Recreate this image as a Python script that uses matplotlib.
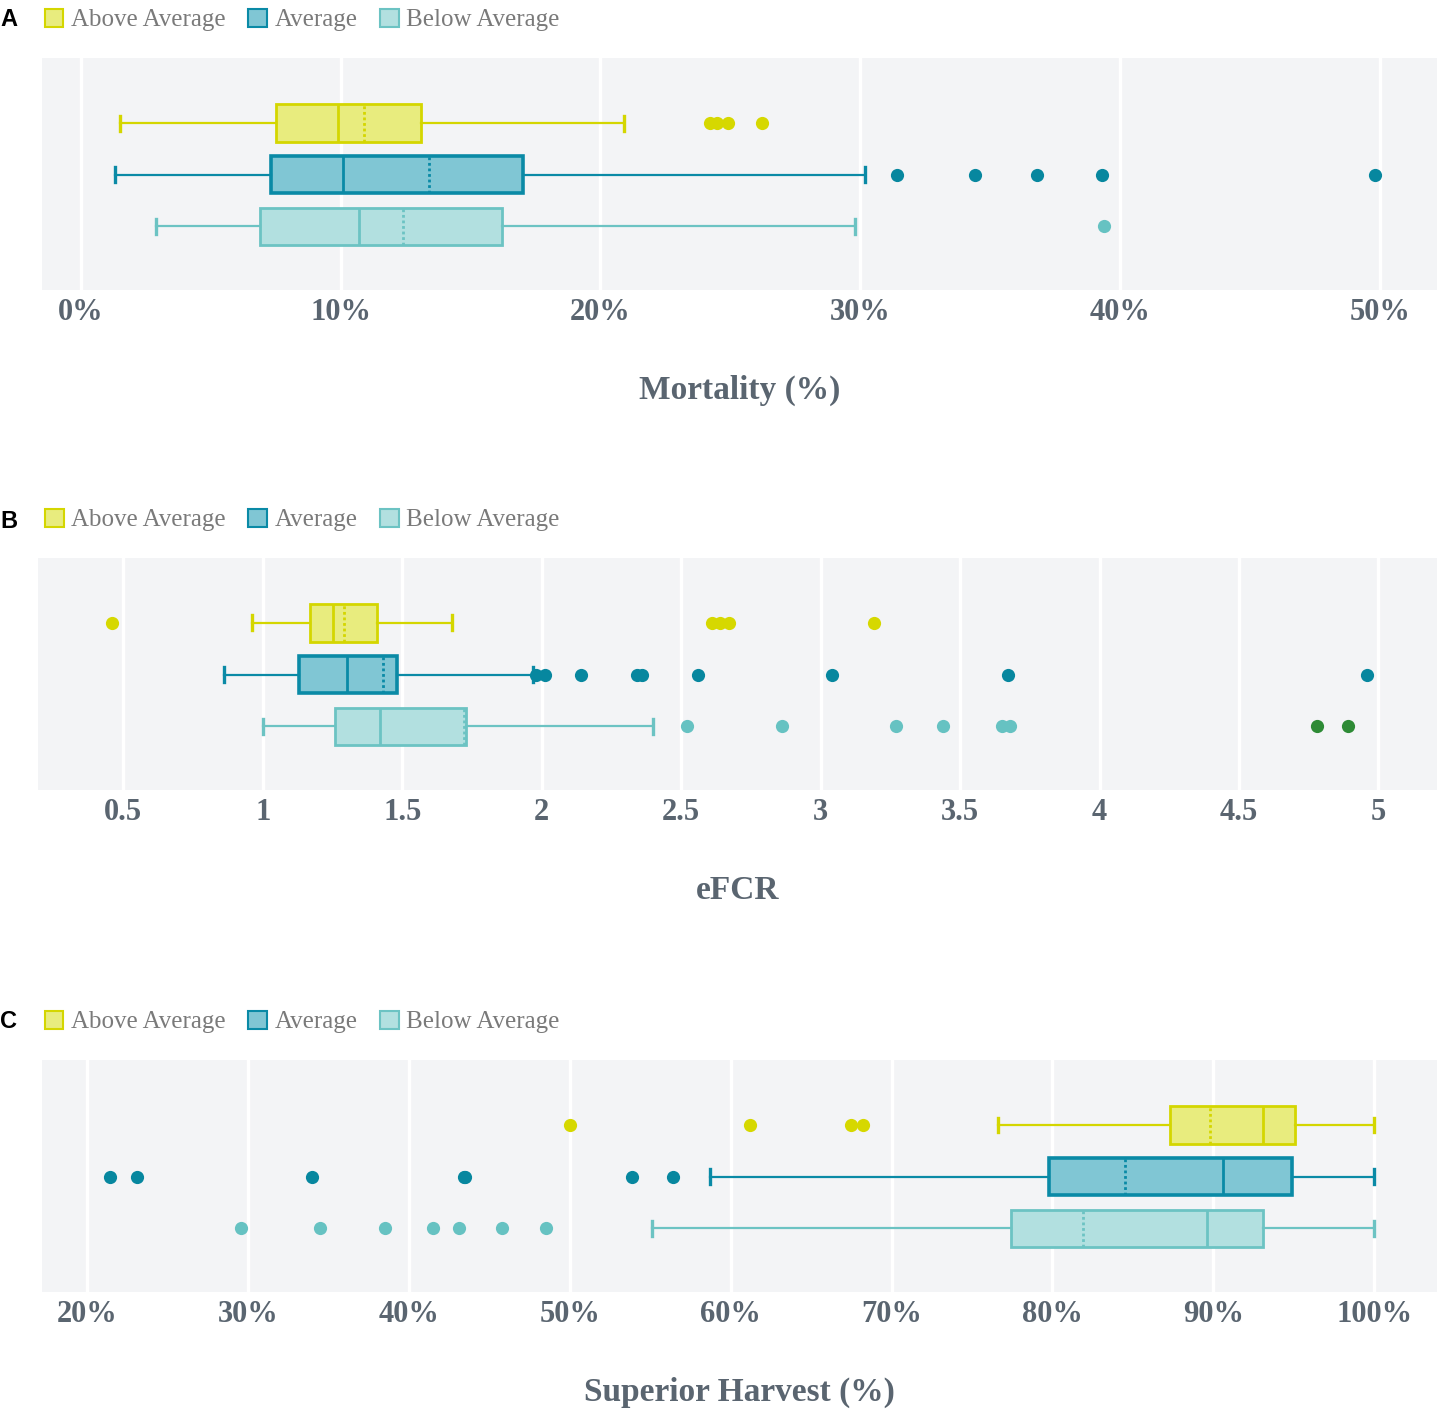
import matplotlib
matplotlib.use('Agg')
import matplotlib.pyplot as plt
from matplotlib.patches import Patch

# groups (top to bottom)
groups = ['Above Average', 'Average', 'Below Average']

# A: mortality (%)
mort_whislo = [1.5, 1.3, 2.9]
mort_q1 = [7.5, 7.3, 6.9]
mort_med = [9.9, 10.1, 10.7]
mort_mean = [10.9, 13.4, 12.4]
mort_q3 = [13.1, 17.0, 16.2]
mort_whishi = [20.9, 30.2, 29.8]
mort_fliers = [[24.2, 24.5, 24.9, 26.2],
               [31.4, 34.4, 36.8, 39.3, 49.8],
               [39.4]]
mort_ticks = [0, 10, 20, 30, 40, 50]
mort_ticklabels = ['0%', '10%', '20%', '30%', '40%', '50%']

# B: eFCR
efcr_whislo = [0.96, 0.86, 1.0]
efcr_q1 = [1.17, 1.13, 1.26]
efcr_med = [1.25, 1.30, 1.42]
efcr_mean = [1.29, 1.43, 1.72]
efcr_q3 = [1.41, 1.48, 1.73]
efcr_whishi = [1.68, 1.97, 2.40]
efcr_fliers = [[0.46, 2.61, 2.64, 2.67, 3.19],
               [1.98, 2.01, 2.14, 2.34, 2.36, 2.56, 3.04, 3.67, 4.96],
               [2.52, 2.86, 3.27, 3.44, 3.65, 3.68]]
efcr_extreme = [[], [], [4.78, 4.89]]
efcr_ticks = [0.5, 1, 1.5, 2, 2.5, 3, 3.5, 4, 4.5, 5]
efcr_ticklabels = ['0.5', '1', '1.5', '2', '2.5', '3', '3.5', '4', '4.5', '5']

# C: superior harvest (%)
harv_whislo = [76.6, 58.7, 55.1]
harv_q1 = [87.3, 79.8, 77.4]
harv_med = [93.1, 90.6, 89.6]
harv_mean = [89.8, 84.5, 81.9]
harv_q3 = [95.1, 94.9, 93.1]
harv_whishi = [100, 100, 100]
harv_fliers = [[50.0, 61.2, 67.5, 68.2],
               [21.4, 23.1, 34.0, 43.4, 43.5, 53.9, 56.4],
               [29.6, 34.5, 38.5, 41.5, 43.1, 45.8, 48.5]]
harv_ticks = [20, 30, 40, 50, 60, 70, 80, 90, 100]
harv_ticklabels = ['20%', '30%', '40%', '50%', '60%', '70%', '80%', '90%', '100%']

edge_colors = ['#d4d600', '#0a8aa6', '#6cc3c3']
fill_colors = ['#e8ec7e', '#80c6d4', '#b2e0e0']
flier_colors = ['#d6d800', '#07879f', '#66c2c2']
extreme_color = '#2e8b36'
box_lw = [2.0, 2.6, 2.0]
bg = '#f3f4f6'
text_col = '#5a6570'
serif = 'Liberation Serif'


def draw_panel(ax, whislo, q1, med, mean, q3, whishi, fliers, xlim,
               ticks, ticklabels, xlabel, extreme=None, leg_x=0.002):
    ax.set_facecolor(bg)
    for i in range(3):
        y = 3 - i
        st = [dict(whislo=whislo[i], q1=q1[i], med=med[i], mean=mean[i],
                   q3=q3[i], whishi=whishi[i], fliers=[])]
        c = edge_colors[i]
        ax.bxp(st, positions=[y], vert=False, widths=0.72, capwidths=0.29,
               patch_artist=True, showmeans=True, meanline=True,
               showfliers=False,
               boxprops=dict(facecolor=fill_colors[i], edgecolor=c, linewidth=box_lw[i]),
               medianprops=dict(color=c, linewidth=2.0),
               meanprops=dict(color=c, linewidth=2.0, linestyle=(0, (1, 1))),
               whiskerprops=dict(color=c, linewidth=1.6),
               capprops=dict(color=c, linewidth=2.4))
        ax.plot(fliers[i], [y] * len(fliers[i]), 'o', color=flier_colors[i],
                markersize=9.5, markeredgewidth=0, zorder=3)
        if extreme is not None and extreme[i]:
            ax.plot(extreme[i], [y] * len(extreme[i]), 'o', color=extreme_color,
                    markersize=9.5, markeredgewidth=0, zorder=3)
    ax.set_xlim(xlim)
    ax.set_ylim(-0.24, 4.26)
    ax.set_yticks([])
    ax.set_xticks(ticks)
    ax.set_xticklabels(ticklabels, fontsize=22, fontweight='bold',
                       family=serif, color=text_col)
    ax.tick_params(axis='x', length=0, pad=6)
    ax.grid(axis='x', color='white', linewidth=2.4)
    ax.set_axisbelow(True)
    for s in ax.spines.values():
        s.set_visible(False)
    ax.set_xlabel(xlabel, fontsize=24, fontweight='bold', family=serif,
                  color=text_col, labelpad=34)
    handles = [Patch(facecolor=fill_colors[k], edgecolor=edge_colors[k],
                     linewidth=1.5, label=groups[k]) for k in range(3)]
    leg = ax.legend(handles=handles, loc='center left', bbox_to_anchor=(leg_x, 1.164),
                    ncol=3, frameon=False, borderpad=0, borderaxespad=0,
                    handlelength=0.75, handleheight=0.75, handletextpad=0.3,
                    columnspacing=0.9, prop=dict(family=serif, size=18))
    for t in leg.get_texts():
        t.set_color('#7a7a7a')


fig = plt.figure(figsize=(14.46, 14.17), dpi=100)
axA = fig.add_axes([0.029, 0.7953, 0.9648, 0.1637])
axB = fig.add_axes([0.0263, 0.4425, 0.9675, 0.1637])
axC = fig.add_axes([0.029, 0.0882, 0.9648, 0.1637])

draw_panel(axA, mort_whislo, mort_q1, mort_med, mort_mean, mort_q3, mort_whishi,
           mort_fliers, (-1.5, 52.2), mort_ticks, mort_ticklabels, 'Mortality (%)')
draw_panel(axB, efcr_whislo, efcr_q1, efcr_med, efcr_mean, efcr_q3, efcr_whishi,
           efcr_fliers, (0.194, 5.21), efcr_ticks, efcr_ticklabels, 'eFCR',
           extreme=efcr_extreme, leg_x=0.005)
draw_panel(axC, harv_whislo, harv_q1, harv_med, harv_mean, harv_q3, harv_whishi,
           harv_fliers, (17.2, 103.9), harv_ticks, harv_ticklabels,
           'Superior Harvest (%)')

for letter, yy in [('A', 1 - 20 / 1417), ('B', 1 - 521 / 1417), ('C', 1 - 1022 / 1417)]:
    fig.text(0.0, yy, letter, fontsize=17, fontweight='bold', family='Liberation Sans',
             va='center', ha='left')

fig.savefig('out.png', dpi=100)
